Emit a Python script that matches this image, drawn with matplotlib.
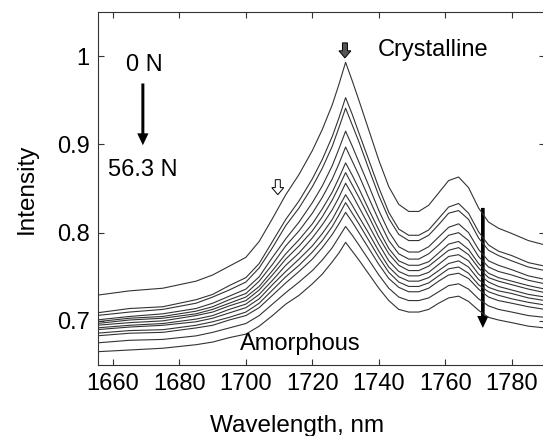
import matplotlib
matplotlib.use("Agg")
import matplotlib.pyplot as plt
from matplotlib.patches import FancyArrow

plt.rcParams['font.family'] = ['Liberation Sans', 'DejaVu Sans']

# Wavelength grid (nm)
wavelength = [1655, 1665, 1675, 1685, 1690, 1695, 1700, 1704, 1708, 1712, 1716, 1720, 1723,
              1726, 1728, 1730, 1732, 1734, 1737, 1740, 1743, 1746, 1749, 1752, 1755, 1758,
              1761, 1764, 1767, 1770, 1773, 1776, 1780, 1785, 1790]

# Spectra from 0 N (top) to 56.3 N (bottom)
s00 = [.729, .734, .737, .745, .752, .762, .772, .790, .816, .843, .866, .893, .917, .945, .968, .993, .972, .950, .916, .882, .852, .832, .824, .824, .831, .845, .859, .863, .851, .828, .812, .805, .799, .791, .786]
s01 = [.709, .714, .716, .724, .730, .740, .749, .765, .790, .815, .836, .861, .883, .909, .930, .953, .934, .913, .882, .851, .823, .804, .797, .797, .803, .816, .829, .833, .822, .801, .786, .779, .774, .766, .762]
s02 = [.706, .710, .713, .720, .727, .735, .744, .760, .783, .808, .828, .852, .873, .898, .919, .941, .922, .903, .872, .842, .816, .798, .791, .791, .797, .809, .822, .825, .815, .794, .780, .774, .768, .761, .757]
s03 = [.701, .705, .708, .714, .720, .728, .736, .750, .772, .793, .812, .834, .853, .876, .895, .915, .898, .880, .853, .825, .801, .784, .778, .778, .784, .795, .806, .810, .800, .781, .768, .763, .758, .751, .747]
s04 = [.699, .703, .705, .711, .716, .724, .731, .745, .764, .785, .802, .822, .840, .861, .878, .897, .881, .865, .839, .814, .791, .776, .770, .770, .776, .786, .797, .800, .791, .773, .761, .756, .752, .746, .742]
s05 = [.697, .701, .703, .708, .713, .720, .727, .739, .757, .776, .792, .810, .827, .846, .862, .879, .865, .850, .826, .803, .782, .768, .763, .763, .767, .777, .787, .790, .781, .765, .754, .749, .745, .740, .736]
s06 = [.695, .698, .700, .706, .710, .717, .723, .735, .752, .770, .785, .802, .818, .837, .852, .868, .854, .840, .818, .795, .776, .763, .757, .757, .762, .771, .780, .783, .775, .760, .749, .745, .741, .736, .732]
s07 = [.692, .695, .697, .702, .706, .713, .719, .730, .746, .763, .777, .794, .809, .826, .840, .856, .843, .829, .808, .787, .768, .756, .751, .751, .755, .764, .773, .775, .768, .753, .744, .739, .735, .730, .727]
s08 = [.690, .693, .695, .699, .703, .709, .715, .725, .741, .756, .770, .785, .799, .815, .829, .843, .831, .818, .799, .779, .761, .750, .745, .745, .749, .757, .765, .768, .761, .747, .738, .734, .731, .726, .723]
s09 = [.686, .689, .690, .695, .699, .704, .710, .720, .735, .750, .763, .778, .791, .807, .820, .834, .822, .810, .791, .772, .755, .744, .739, .739, .743, .751, .759, .761, .754, .741, .733, .729, .725, .721, .718]
s10 = [.683, .686, .687, .692, .695, .701, .706, .715, .729, .743, .756, .770, .783, .798, .810, .823, .812, .800, .782, .764, .748, .738, .733, .733, .737, .745, .752, .754, .748, .736, .727, .723, .720, .716, .713]
s11 = [.675, .678, .679, .683, .687, .692, .697, .706, .719, .732, .744, .757, .769, .783, .795, .807, .797, .786, .769, .752, .737, .727, .723, .723, .726, .733, .740, .742, .736, .725, .717, .713, .710, .706, .704]
s12 = [.665, .667, .669, .673, .676, .681, .685, .694, .706, .719, .729, .742, .753, .767, .777, .789, .779, .769, .753, .737, .723, .713, .710, .710, .713, .720, .726, .728, .722, .712, .704, .701, .698, .694, .692]
spectra = [s00, s01, s02, s03, s04, s05, s06, s07, s08, s09, s10, s11, s12]

xticks = [1660, 1680, 1700, 1720, 1740, 1760, 1780]
yticks = [0.7, 0.8, 0.9, 1.0]
ytick_labels = ['0.7', '0.8', '0.9', '1']

fig = plt.figure(figsize=(5.43, 4.36), dpi=100)
ax = fig.add_axes([98/543, 71/436, 447/543, 353/436])

for s in spectra:
    ax.plot(wavelength, s, color='#333333', lw=0.8)

ax.set_xlim(1655.5, 1790)
ax.set_ylim(0.65, 1.05)
ax.set_xticks(xticks)
ax.set_yticks(yticks)
ax.set_yticklabels(ytick_labels)
ax.tick_params(direction='in', top=True, right=True, length=4, width=0.8,
               labelsize=17, color='#333333')
ax.tick_params(axis='x', pad=6)
ax.tick_params(axis='y', pad=6)
for sp in ax.spines.values():
    sp.set_linewidth(0.8)
    sp.set_color('#333333')

ax.set_xlabel('Wavelength, nm', fontsize=17.5, labelpad=14, x=0.446)
ax.set_ylabel('Intensity', fontsize=17.5, labelpad=14)

# Annotations
ax.text(1669.3, 0.990, '0 N', fontsize=17, ha='center', va='center')
ax.text(1669.0, 0.871, '56.3 N', fontsize=17, ha='center', va='center')
ax.text(1756.2, 1.007, 'Crystalline', fontsize=17, ha='center', va='center')
ax.text(1716.5, 0.674, 'Amorphous', fontsize=17, ha='center', va='center')

# thick black arrows
ax.add_patch(FancyArrow(1669.0, 0.969, 0, 0.899 - 0.969, width=0.9, head_width=3.4,
                        head_length=0.0135, length_includes_head=True,
                        fc='black', ec='black', lw=0))
ax.add_patch(FancyArrow(1771.3, 0.828, 0, 0.692 - 0.828, width=1.1, head_width=3.4,
                        head_length=0.0135, length_includes_head=True,
                        fc='black', ec='black', lw=0))
# block arrows
ax.add_patch(FancyArrow(1729.8, 1.015, 0, -0.017, width=1.5, head_width=3.6,
                        head_length=0.008, length_includes_head=True,
                        fc='#555555', ec='black', lw=0.7))
ax.add_patch(FancyArrow(1709.6, 0.860, 0, -0.017, width=1.5, head_width=3.6,
                        head_length=0.008, length_includes_head=True,
                        fc='white', ec='black', lw=0.7))

fig.savefig('out.png', dpi=100)
